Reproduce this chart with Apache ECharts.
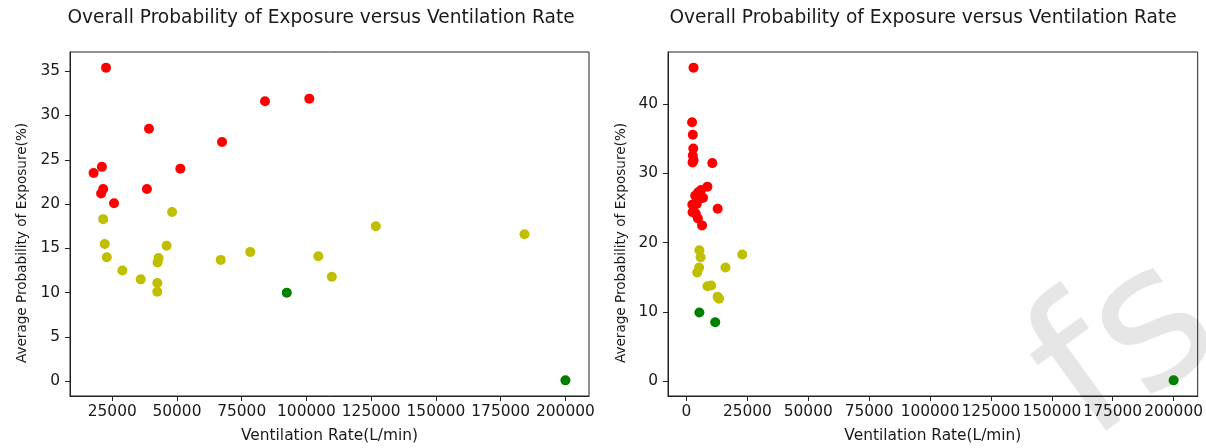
<!DOCTYPE html>
<html><head><meta charset="utf-8">
<script src="https://cdn.jsdelivr.net/npm/echarts@6/dist/echarts.min.js"></script>
<style>html,body{margin:0;padding:0;background:#fff}#c{width:1206px;height:448px}</style>
</head><body><div id="c"></div>
<script>
// ---- Left panel data ----
const leftRedX = [22600, 84000, 101100, 39200, 67400, 51300, 21000, 17800, 21500, 20700, 38400, 25700];
const leftRedY = [35.4, 31.6, 31.9, 28.5, 27.0, 24.0, 24.2, 23.5, 21.7, 21.2, 21.7, 20.1];
const leftYellowX = [21500, 48100, 22100, 46000, 22900, 42900, 42500, 28900, 36000, 42400, 42400, 66900, 78300, 104600, 109800, 126800, 184200];
const leftYellowY = [18.3, 19.1, 15.5, 15.3, 14.0, 13.9, 13.4, 12.5, 11.5, 11.1, 10.1, 13.7, 14.6, 14.1, 11.8, 17.5, 16.6];
const leftGreenX = [92400, 200000];
const leftGreenY = [10.0, 0.1];

// ---- Right panel data ----
const rightRedX = [2900, 2300, 2600, 2800, 2600, 2900, 2500, 10600, 8600, 6000, 4800, 3600, 5800, 6800, 2400, 4200, 12800, 2500, 3800, 4700, 6400];
const rightRedY = [45.3, 37.4, 35.6, 33.6, 32.6, 31.9, 31.6, 31.5, 28.1, 27.6, 27.3, 26.8, 26.4, 26.5, 25.5, 25.6, 24.9, 24.4, 24.2, 23.5, 22.5];
const rightYellowX = [5300, 5800, 5200, 4400, 22900, 16000, 8600, 10100, 12800, 13400];
const rightYellowY = [18.9, 17.9, 16.4, 15.7, 18.3, 16.4, 13.7, 13.8, 12.2, 11.9];
const rightGreenX = [5300, 11800, 200000];
const rightGreenY = [9.9, 8.5, 0.1];

// ---- Tick labels ----
const leftXTicks = [25000, 50000, 75000, 100000, 125000, 150000, 175000, 200000];
const leftYTicks = [0, 5, 10, 15, 20, 25, 30, 35];
const rightXTicks = [0, 25000, 50000, 75000, 100000, 125000, 150000, 175000, 200000];
const rightYTicks = [0, 10, 20, 30, 40];

const titleText = 'Overall Probability of Exposure versus Ventilation Rate';
const xName = 'Ventilation Rate(L/min)';
const yName = 'Average Probability of Exposure(%)';
const watermarkText = 'fs';

const RED = '#ff0000', YEL = '#bfbf00', GRN = '#008000';
const FONT = 'DejaVu Sans';
const TXT = '#1a1a1a';

function zip(xs, ys) { return xs.map((x, i) => [x, ys[i]]); }
function range(arrs) {
  const all = [].concat(...arrs);
  const mn = Math.min(...all), mx = Math.max(...all), m = (mx - mn) * 0.05;
  return [mn - m, mx + m];
}
const lx = range([leftRedX, leftYellowX, leftGreenX]);
const ly = range([leftRedY, leftYellowY, leftGreenY]);
const rx = range([rightRedX, rightYellowX, rightGreenX]);
const ry = range([rightRedY, rightYellowY, rightGreenY]);

const G = [
  {left: 70, top: 52, width: 519, height: 344},
  {left: 668, top: 52, width: 532, height: 344}
];

function xAxis(idx, r, ticks) {
  return {
    type: 'value', gridIndex: idx, min: r[0], max: r[1],
    splitLine: {show: false},
    axisLine: {show: true, onZero: false, lineStyle: {color: '#222', width: 1}},
    axisTick: {show: true, inside: false, length: 5, customValues: ticks, lineStyle: {color: '#222'}},
    axisLabel: {customValues: ticks, color: TXT, fontSize: 15.4, fontFamily: FONT, margin: 8, formatter: v => String(v)},
    name: xName, nameLocation: 'middle', nameGap: 32,
    nameTextStyle: {color: TXT, fontSize: 15.4, fontFamily: FONT}
  };
}
function yAxis(idx, r, ticks) {
  return {
    type: 'value', gridIndex: idx, min: r[0], max: r[1],
    splitLine: {show: false},
    axisLine: {show: true, onZero: false, lineStyle: {color: '#222', width: 1}},
    axisTick: {show: true, inside: false, length: 5, customValues: ticks, lineStyle: {color: '#222'}},
    axisLabel: {customValues: ticks, color: TXT, fontSize: 15.4, fontFamily: FONT, margin: 10, formatter: v => String(v)}
  };
}
function sc(idx, xs, ys, color) {
  return {type: 'scatter', xAxisIndex: idx, yAxisIndex: idx, data: zip(xs, ys), z: 3,
    symbolSize: 10, itemStyle: {color: color, opacity: 1}, silent: true, animation: false};
}
function ylab(x, y) {
  return {type: 'text', x: x, y: y, rotation: Math.PI / 2, z: 10, silent: true,
    style: {text: yName, fill: TXT, font: '13.6px "DejaVu Sans"', align: 'center', verticalAlign: 'middle'}};
}

const chart = echarts.init(document.getElementById('c'), null, {renderer: 'canvas'});
chart.setOption({
  animation: false,
  backgroundColor: '#fff',
  title: [
    {text: titleText, left: 316, textAlign: 'center', top: 4,
     textStyle: {fontFamily: FONT, fontSize: 18.6, fontWeight: 'normal', color: TXT}},
    {text: titleText, left: 918, textAlign: 'center', top: 4,
     textStyle: {fontFamily: FONT, fontSize: 18.6, fontWeight: 'normal', color: TXT}}
  ],
  graphic: [
    {type: 'text', x: 1128, y: 352, rotation: Math.PI * 36 / 180, z: -10, silent: true,
     style: {text: watermarkText, fill: '#e6e6e6', font: '195px "DejaVu Sans"', align: 'center', verticalAlign: 'middle'}},
    ylab(22, 243),
    ylab(621, 243)
  ],
  grid: G.map(g => Object.assign({show: true, borderColor: '#222', borderWidth: 1, backgroundColor: 'transparent'}, g)),
  xAxis: [xAxis(0, lx, leftXTicks), xAxis(1, rx, rightXTicks)],
  yAxis: [yAxis(0, ly, leftYTicks), yAxis(1, ry, rightYTicks)],
  series: [
    sc(0, leftRedX, leftRedY, RED), sc(0, leftYellowX, leftYellowY, YEL), sc(0, leftGreenX, leftGreenY, GRN),
    sc(1, rightRedX, rightRedY, RED), sc(1, rightYellowX, rightYellowY, YEL), sc(1, rightGreenX, rightGreenY, GRN)
  ]
});
</script></body></html>
